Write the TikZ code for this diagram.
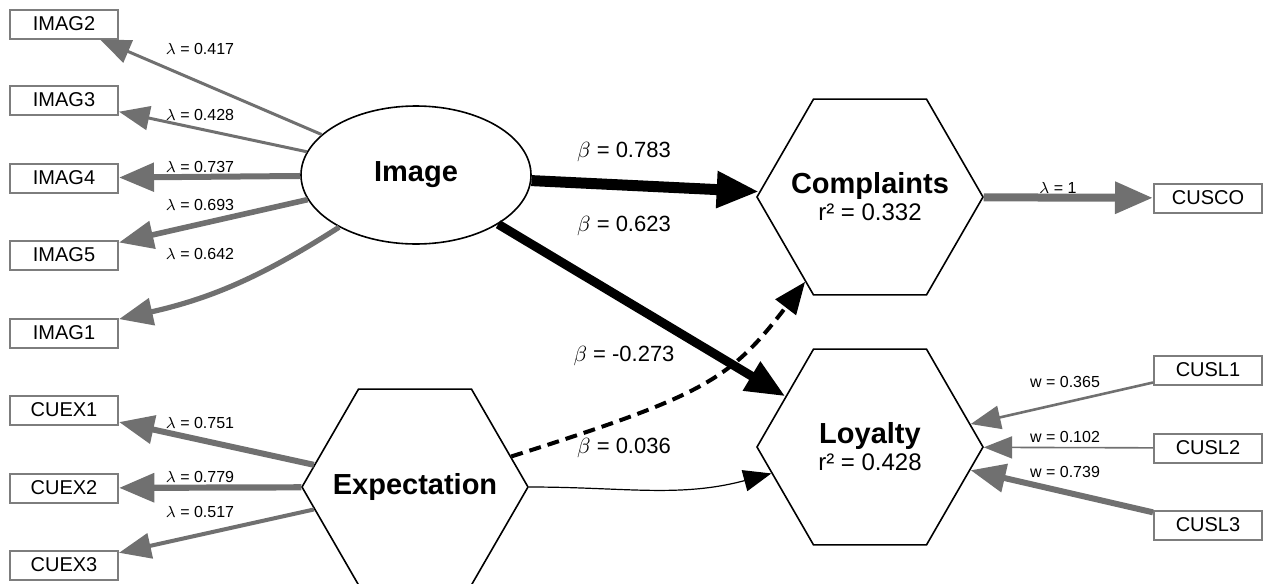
\documentclass[tikz,border=0pt]{standalone}
\usepackage{fontspec}
\setmainfont{Liberation Sans}
\usetikzlibrary{positioning,arrows.meta,shapes.geometric}
\definecolor{edgegray}{RGB}{112,112,112}
\definecolor{boxgray}{RGB}{125,125,125}

\begin{document}
\begin{tikzpicture}[x=0.5pt,y=-0.5pt,
mvar/.style={draw=boxgray,line width=1pt,fill=white,minimum width=54pt,minimum height=14.5pt,inner sep=0pt,font=\fontsize{10}{12}\selectfont},
hexa/.style={draw,line width=0.8pt,regular polygon,regular polygon sides=6,minimum size=113pt,inner sep=0pt},
ttl/.style={font=\fontsize{14.5}{16}\selectfont\bfseries},
lv/.style={align=center,font=\fontsize{12}{13.5}\selectfont},
lbl/.style={font=\fontsize{8}{9}\selectfont,inner sep=1pt},
blbl/.style={font=\fontsize{11}{12}\selectfont,inner sep=1pt},
load/.style={draw=edgegray,-{Triangle[length=13pt 1.5,width=10pt 1.3]}},
reg/.style={draw=black,-{Triangle[length=13pt 1.5,width=10pt 1.3]}}]
\useasboundingbox (0,0) rectangle (1270,584);
% constructs
\node[draw,ellipse,line width=0.8pt,minimum width=115pt,minimum height=69pt,inner sep=0pt,ttl] (img) at (416,175) {Image};
\node[hexa,label={[ttl]center:Expectation}] (expc) at (415,487) {};
\node[hexa,label={[lv]center:{{\fontsize{14.5}{16}\selectfont\bfseries Complaints}\\r² = 0.332}}] (cmp) at (870,197) {};
\node[hexa,label={[lv]center:{{\fontsize{14.5}{16}\selectfont\bfseries Loyalty}\\r² = 0.428}}] (loy) at (870,447) {};
% indicators
\node[mvar] (imag2) at (64,24) {IMAG2};
\node[mvar] (imag3) at (64,100) {IMAG3};
\node[mvar] (imag4) at (64,178) {IMAG4};
\node[mvar] (imag5) at (64,255) {IMAG5};
\node[mvar] (imag1) at (64,333) {IMAG1};
\node[mvar] (cuex1) at (64,410) {CUEX1};
\node[mvar] (cuex2) at (64,488) {CUEX2};
\node[mvar] (cuex3) at (64,565) {CUEX3};
\node[mvar] (cusco) at (1208,198) {CUSCO};
\node[mvar] (cusl1) at (1208,370) {CUSL1};
\node[mvar] (cusl2) at (1208,448) {CUSL2};
\node[mvar] (cusl3) at (1208,525) {CUSL3};
% loadings and weights
\draw[load,line width=1.5pt](img)--(imag2);\draw[load,line width=1.5pt](img)--(imag3);\draw[load,line width=3pt](img)--(imag4);
\draw[load,line width=2.8pt](img)--(imag5);\draw[load,line width=2.6pt](img) to[bend left=10] (imag1);
\draw[load,line width=3pt](expc)--(cuex1);\draw[load,line width=3.1pt](expc)--(cuex2);\draw[load,line width=2pt](expc)--(cuex3);
\draw[load,line width=4pt](cmp)--(cusco);
\draw[load,line width=1.3pt](cusl1)--(loy);\draw[load,line width=0.8pt](cusl2)--(loy);\draw[load,line width=3pt](cusl3)--(loy);
% paths
\draw[reg,line width=5.5pt](img)--(cmp);
\draw[reg,line width=4.5pt](img)--(loy);
\draw[reg,line width=2pt,dash pattern=on 6pt off 3.5pt](expc) .. controls (705,395) and (730,380) .. (cmp);
\draw[reg,line width=0.6pt](expc) to[out=0,in=195] (loy);
% labels
\node[lbl] (l2) at (200,49) {$\lambda$ = 0.417};
\node[lbl] (l3) at (200,115) {$\lambda$ = 0.428};
\node[lbl] (l4) at (200,167) {$\lambda$ = 0.737};
\node[lbl] (l5) at (200,205) {$\lambda$ = 0.693};
\node[lbl] (l1) at (200,254) {$\lambda$ = 0.642};
\node[lbl] (e1) at (200,423) {$\lambda$ = 0.751};
\node[lbl] (e2) at (200,477) {$\lambda$ = 0.779};
\node[lbl] (e3) at (200,512) {$\lambda$ = 0.517};
\node[lbl] (c0) at (1058,188) {$\lambda$ = 1};
\node[lbl] (w1) at (1065,382) {w = 0.365};
\node[lbl] (w2) at (1065,437) {w = 0.102};
\node[lbl] (w3) at (1065,472) {w = 0.739};
\node[blbl] (b1) at (624,152) {$\beta$ = 0.783};
\node[blbl] (b2) at (624,226) {$\beta$ = 0.623};
\node[blbl] (b3) at (624,356) {$\beta$ = -0.273};
\node[blbl] (b4) at (624,448) {$\beta$ = 0.036};
\end{tikzpicture}
\end{document}
